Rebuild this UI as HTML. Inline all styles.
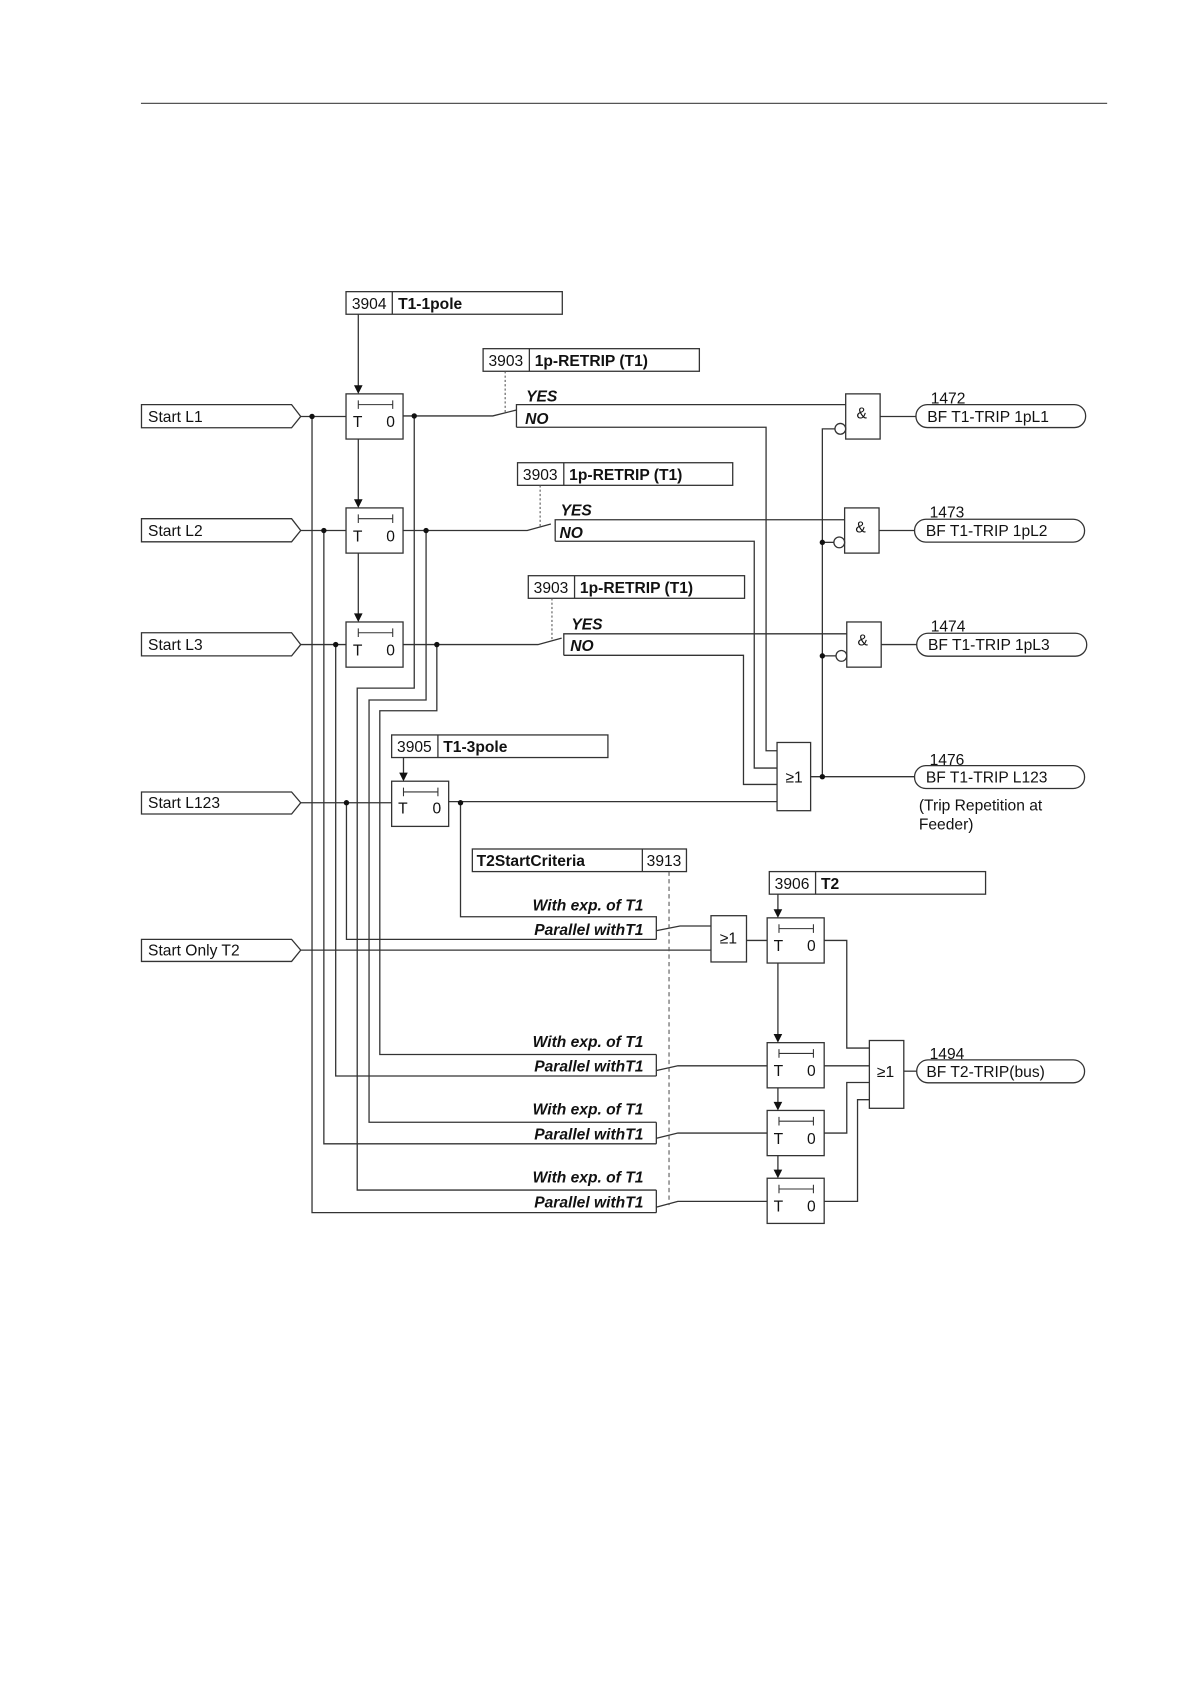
<!DOCTYPE html>
<html><head><meta charset="utf-8"><style>
html,body{margin:0;padding:0;background:#fff;}
svg{display:block;}
text{font-family:"Liberation Sans",Arial,sans-serif;fill:#111;}
.b{font-weight:bold;}
.bi{font-weight:bold;font-style:italic;}
</style></head><body>
<svg width="1190" height="1684" viewBox="0 0 1106 1565" xmlns="http://www.w3.org/2000/svg">
<g fill="none" stroke="#333" stroke-width="1.2">
<line x1="131" y1="96" x2="1029" y2="96" stroke="#555"/>

<polygon points="131.5,376 271,376 279.5,387 271,397.5 131.5,397.5" fill="#fff"/>
<polygon points="131.5,482 271,482 279.5,493 271,503.5 131.5,503.5" fill="#fff"/>
<polygon points="131.5,588 271,588 279.5,599 271,609.5 131.5,609.5" fill="#fff"/>
<polygon points="131.5,736 271,736 279.5,746 271,756.5 131.5,756.5" fill="#fff"/>
<polygon points="131.5,873 271,873 279.5,883 271,893.5 131.5,893.5" fill="#fff"/>

<rect x="321.6" y="271" width="201" height="21"/><line x1="364.6" y1="271" x2="364.6" y2="292"/>
<rect x="449" y="324" width="201" height="21"/><line x1="492" y1="324" x2="492" y2="345"/>
<rect x="481" y="430" width="200" height="21"/><line x1="524" y1="430" x2="524" y2="451"/>
<rect x="491" y="535" width="201" height="21"/><line x1="534" y1="535" x2="534" y2="556"/>
<rect x="364" y="683" width="201" height="21"/><line x1="407" y1="683" x2="407" y2="704"/>
<rect x="439" y="789" width="199" height="21"/><line x1="597" y1="789" x2="597" y2="810"/>
<rect x="715" y="810" width="201" height="21"/><line x1="758" y1="810" x2="758" y2="831"/>

<rect x="321.6" y="366" width="53" height="42"/>
<rect x="321.6" y="472" width="53" height="42"/>
<rect x="321.6" y="578" width="53" height="42"/>
<rect x="364" y="726" width="53" height="42"/>
<rect x="713" y="853" width="53" height="42"/>
<rect x="713" y="969" width="53" height="42"/>
<rect x="713" y="1032" width="53" height="42"/>
<rect x="713" y="1095" width="53" height="42"/>

<line x1="333" y1="292" x2="333" y2="360"/>
<line x1="333" y1="408" x2="333" y2="466"/>
<line x1="333" y1="514" x2="333" y2="572"/>
<line x1="375" y1="704" x2="375" y2="720"/>
<line x1="723" y1="831" x2="723" y2="847"/>
<line x1="723" y1="895" x2="723" y2="963"/>
<line x1="723" y1="1011" x2="723" y2="1026"/>
<line x1="723" y1="1074" x2="723" y2="1089"/>

<line x1="279.5" y1="387" x2="321.6" y2="387"/>
<line x1="279.5" y1="493" x2="321.6" y2="493"/>
<line x1="279.5" y1="599" x2="321.6" y2="599"/>
<line x1="279.5" y1="746" x2="364" y2="746"/>
<line x1="279.5" y1="883" x2="661" y2="883"/>

<polyline points="290,387 290,1127 610,1127"/>
<polyline points="301,493 301,1063 610,1063"/>
<polyline points="312,599 312,1000 610,1000"/>
<polyline points="322,746 322,873 610,873"/>

<polyline points="374.6,386.5 458,386.5 480,381"/>
<polyline points="374.6,493 490,493 512,487"/>
<polyline points="374.6,599 500,599 522,593"/>
<polyline points="385,386.5 385,639.5 332,639.5 332,1106 610,1106"/>
<polyline points="396,493 396,650.5 343,650.5 343,1043 610,1043"/>
<polyline points="406,599 406,660.5 353,660.5 353,980 610,980"/>

<polyline points="480,397 480,376 786,376"/>
<polyline points="480,397 712,397 712,697.7 722.2,697.7"/>
<polyline points="516,503 516,483 785,483"/>
<polyline points="516,503 701,503 701,713.8 722.2,713.8"/>
<polyline points="524,609 524,589 787,589"/>
<polyline points="524,609 691,609 691,729 722.2,729"/>

<rect x="786" y="366" width="32" height="42"/>
<rect x="785" y="472" width="32" height="42"/>
<rect x="787" y="578" width="32" height="42"/>
<circle cx="781" cy="398.5" r="5" fill="#fff"/>
<circle cx="780" cy="504" r="5" fill="#fff"/>
<circle cx="782" cy="609.5" r="5" fill="#fff"/>
<polyline points="776,398.5 764.3,398.5 764.3,721.8"/>
<line x1="764.3" y1="504" x2="775" y2="504"/>
<line x1="764.3" y1="609.5" x2="777" y2="609.5"/>
<line x1="818" y1="387" x2="851.3" y2="387"/>
<line x1="817" y1="493" x2="850" y2="493"/>
<line x1="819" y1="599" x2="852" y2="599"/>

<rect x="722.2" y="690" width="31.2" height="63.4"/>
<line x1="417" y1="745" x2="722.2" y2="745"/>
<line x1="753.4" y1="721.8" x2="850" y2="721.8"/>
<polyline points="428,746 428,852 610,852 610,873"/>

<rect x="851.3" y="376" width="157.7" height="21.3" rx="10.5"/>
<rect x="850" y="482.5" width="158" height="21.3" rx="10.5"/>
<rect x="852" y="588.5" width="158" height="21.3" rx="10.5"/>
<rect x="850" y="711.5" width="158" height="21.3" rx="10.5"/>
<rect x="852" y="985" width="156" height="21.3" rx="10.5"/>

<polyline points="610,980 610,1000"/>
<polyline points="610,1043 610,1063"/>
<polyline points="610,1106 610,1127"/>
<polyline points="609.7,865 632,860.6 660.8,860.6"/>
<polyline points="609.7,995 630,990.5 713,990.5"/>
<polyline points="609.7,1058 630,1053 713,1053"/>
<polyline points="609.7,1122 630,1116.5 713,1116.5"/>

<rect x="660.8" y="851" width="33" height="43"/>
<line x1="693.8" y1="874" x2="713" y2="874"/>

<polyline points="766,874 787,874 787,974 808,974"/>
<line x1="766" y1="990.5" x2="808" y2="990.5"/>
<polyline points="766,1053 787,1053 787,1006 808,1006"/>
<polyline points="766,1116.5 797,1116.5 797,1022 808,1022"/>
<rect x="808" y="967" width="32" height="63"/>
<line x1="840" y1="995.5" x2="852" y2="995.5"/>

<g stroke-dasharray="2,2" stroke-width="1" stroke="#555">
<line x1="469.5" y1="345" x2="469.5" y2="384"/>
<line x1="502" y1="451" x2="502" y2="490"/>
<line x1="513" y1="556" x2="513" y2="596"/>
</g>
<line x1="621.8" y1="810" x2="621.8" y2="1120" stroke-dasharray="4,3" stroke-width="1" stroke="#555"/>

<g stroke-width="1">
<path d="M333,376 h32 M333,372 v8 M365,372 v8"/>
<path d="M333,482 h32 M333,478 v8 M365,478 v8"/>
<path d="M333,588 h32 M333,584 v8 M365,584 v8"/>
<path d="M375,736 h32 M375,732 v8 M407,732 v8"/>
<path d="M724,863 h32 M724,859 v8 M756,859 v8"/>
<path d="M724,979 h32 M724,975 v8 M756,975 v8"/>
<path d="M724,1042 h32 M724,1038 v8 M756,1038 v8"/>
<path d="M724,1105 h32 M724,1101 v8 M756,1101 v8"/>
</g>
</g>

<g fill="#111">
<path d="M329,358 L337,358 L333,366 z"/>
<path d="M329,464 L337,464 L333,472 z"/>
<path d="M329,570 L337,570 L333,578 z"/>
<path d="M371,718 L379,718 L375,726 z"/>
<path d="M719,845 L727,845 L723,853 z"/>
<path d="M719,961 L727,961 L723,969 z"/>
<path d="M719,1024 L727,1024 L723,1032 z"/>
<path d="M719,1087 L727,1087 L723,1095 z"/>
<circle cx="290" cy="387" r="2.5"/><circle cx="385" cy="386.5" r="2.5"/>
<circle cx="301" cy="493" r="2.5"/><circle cx="396" cy="493" r="2.5"/>
<circle cx="312" cy="599" r="2.5"/><circle cx="406" cy="599" r="2.5"/>
<circle cx="322" cy="746" r="2.5"/><circle cx="428" cy="746" r="2.5"/>
<circle cx="764.3" cy="504" r="2.5"/><circle cx="764.3" cy="609.5" r="2.5"/><circle cx="764.3" cy="721.8" r="2.5"/>
</g>

<g font-size="14.5">
<text x="137.6" y="392">Start L1</text>
<text x="137.6" y="498">Start L2</text>
<text x="137.6" y="604">Start L3</text>
<text x="137.6" y="751">Start L123</text>
<text x="137.6" y="888">Start Only T2</text>

<text x="327" y="287">3904</text><text x="370" y="287" class="b">T1-1pole</text>
<text x="454" y="340">3903</text><text x="497" y="340" class="b">1p-RETRIP (T1)</text>
<text x="486" y="446">3903</text><text x="529" y="446" class="b">1p-RETRIP (T1)</text>
<text x="496" y="551">3903</text><text x="539" y="551" class="b">1p-RETRIP (T1)</text>
<text x="369" y="699">3905</text><text x="412" y="699" class="b">T1-3pole</text>
<text x="443" y="805" class="b">T2StartCriteria</text><text x="601" y="805">3913</text>
<text x="720" y="826">3906</text><text x="763" y="826" class="b">T2</text>

<text x="489" y="373" class="bi">YES</text><text x="488" y="394" class="bi">NO</text>
<text x="521" y="479" class="bi">YES</text><text x="520" y="500" class="bi">NO</text>
<text x="531" y="585" class="bi">YES</text><text x="530" y="605" class="bi">NO</text>

<g text-anchor="end">
<text x="598" y="846" class="bi">With exp. of T1</text><text x="598" y="869" class="bi">Parallel withT1</text>
<text x="598" y="973" class="bi">With exp. of T1</text><text x="598" y="996" class="bi">Parallel withT1</text>
<text x="598" y="1036" class="bi">With exp. of T1</text><text x="598" y="1059" class="bi">Parallel withT1</text>
<text x="598" y="1099" class="bi">With exp. of T1</text><text x="598" y="1122" class="bi">Parallel withT1</text>
</g>

<text x="328" y="397">T</text><text x="359" y="397">0</text>
<text x="328" y="503">T</text><text x="359" y="503">0</text>
<text x="328" y="609">T</text><text x="359" y="609">0</text>
<text x="370" y="756">T</text><text x="402" y="756">0</text>
<text x="719" y="884">T</text><text x="750" y="884">0</text>
<text x="719" y="1000">T</text><text x="750" y="1000">0</text>
<text x="719" y="1063">T</text><text x="750" y="1063">0</text>
<text x="719" y="1126">T</text><text x="750" y="1126">0</text>

<text x="796" y="389">&amp;</text>
<text x="795" y="495">&amp;</text>
<text x="797" y="600">&amp;</text>
<text x="730" y="727">≥1</text>
<text x="669" y="877">≥1</text>
<text x="815" y="1001">≥1</text>

<text x="865" y="375">1472</text><text x="861.8" y="392">BF T1-TRIP 1pL1</text>
<text x="864" y="481">1473</text><text x="860.5" y="498">BF T1-TRIP 1pL2</text>
<text x="865" y="587">1474</text><text x="862.5" y="604">BF T1-TRIP 1pL3</text>
<text x="864" y="711">1476</text><text x="860.5" y="727">BF T1-TRIP L123</text>
<text x="854" y="753">(Trip Repetition at</text>
<text x="854" y="771">Feeder)</text>
<text x="864" y="984">1494</text><text x="861" y="1001">BF T2-TRIP(bus)</text>
</g>
</svg>
</body></html>
